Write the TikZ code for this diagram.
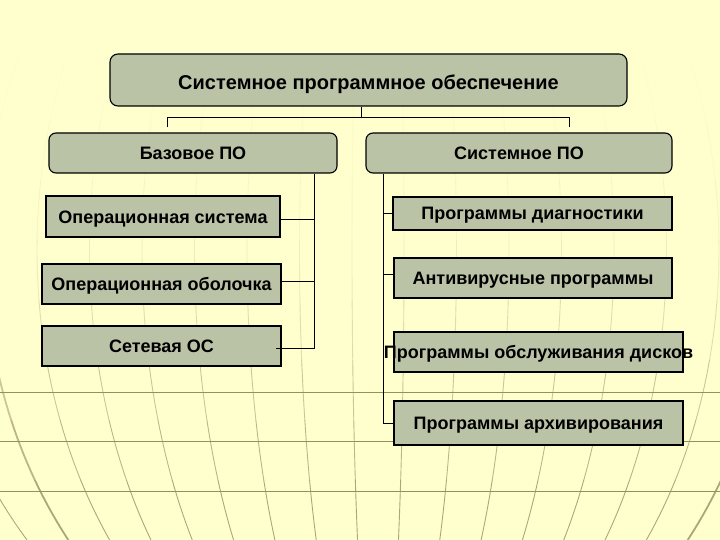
\documentclass[tikz,border=0pt]{standalone}
\usepackage{fontspec}
\setmainfont{Liberation Sans}
\usepackage{tikz}
\usetikzlibrary{calc}

\definecolor{bgyellow}{RGB}{255,255,206}
\definecolor{boxgreen}{RGB}{187,195,167}
\definecolor{globeline}{RGB}{150,142,92}

\begin{document}
\begin{tikzpicture}[x=1pt, y=-1pt,
  box/.style={draw, fill=boxgreen, line width=1.1pt, inner sep=0pt,
    text height=13pt, text depth=0pt, font=\fontsize{18}{20}\selectfont\bfseries},
  head/.style={box, rounded corners=7pt},
  link/.style={line width=0.9pt}]
  \useasboundingbox (0,0) rectangle (720,540);
  \fill[bgyellow] (0,0) rectangle (720,540);
  % globe in the background
  \begin{scope}
    \clip (0,0) rectangle (720,540);
    \foreach \k in {0,...,8}{
      \pgfmathsetmacro\a{26+52.5*\k}
      \foreach \i/\pct in {0/0,1/2,2/5,3/10,4/18,5/30,6/50,7/65,8/78}{
        \pgfmathsetmacro\lw{(\k==7 && \i>5) ? 1.8 : 0.9}
        \pgfmathtruncatemacro\ya{60*\i}
        \pgfmathtruncatemacro\yb{60*\i+60}
        \foreach \s in {-1,1}
          \draw[globeline!\pct!bgyellow, line width=\lw pt]
            plot[domain=\ya:\yb, samples=8] ({378+\s*\a*sqrt(1-((\x-250)/470)^2)}, \x);
      }
    }
    \foreach \y in {392,441,491}
      \draw[globeline, line width=0.8pt] (0,\y) -- (720,\y);
  \end{scope}

  \node[head, rounded corners=8pt, minimum width=517pt, minimum height=52pt, text height=20pt,
    font=\fontsize{20}{22}\selectfont\bfseries] (root) at (368.5,80) {Системное программное обеспечение};
  \node[head, minimum width=288pt, minimum height=40pt] (base) at (193,153) {Базовое ПО};
  \node[head, minimum width=306pt, minimum height=40pt] (sys) at (519,153) {Системное ПО};

  \node[box, minimum width=234pt, minimum height=41pt] (os) at (163,216.5) {Операционная система};
  \node[box, minimum width=239pt, minimum height=40pt] (shell) at (161.5,284) {Операционная оболочка};
  \node[box, minimum width=239pt, minimum height=40pt] (net) at (161.5,346) {Сетевая ОС};

  \node[box, minimum width=279pt, minimum height=33pt] (diag) at (532.5,213.5) {Программы диагностики};
  \node[box, minimum width=278pt, minimum height=40pt] (anti) at (533,278) {Антивирусные программы};
  \node[box, minimum width=289pt, minimum height=40pt] (disk) at (538.5,352) {\makebox[0pt]{Программы обслуживания дисков}};
  \node[box, minimum width=289pt, minimum height=44pt] (arch) at (538.5,423) {Программы архивирования};

  \coordinate (fork) at (361,117);
  \coordinate (ldrop) at (167,117);
  \coordinate (rdrop) at (569,117);
  \coordinate (ltr) at (314,0);
  \coordinate (rtr) at (383,0);

  \draw[link] (root.south -| fork) -- (fork);
  \draw[link] ([yshift=5pt]base.north -| ldrop) -- (ldrop) -- (rdrop) -- ([yshift=5pt]sys.north -| rdrop);

  \draw[link] (base.south -| ltr) -- ([yshift=-2pt]net.east -| ltr) -- ([xshift=-6pt, yshift=-2pt]net.east);
  \draw[link] ([yshift=-2.5pt]os.east) -- ([yshift=-2.5pt]os.east -| ltr);
  \draw[link] ([yshift=3pt]shell.east) -- ([yshift=3pt]shell.east -| ltr);

  \draw[link] (sys.south -| rtr) |- (arch.west);
  \draw[link] (diag.west) -- (diag.west -| rtr);
  \draw[link] ([yshift=4pt]anti.west) -- ([yshift=4pt]anti.west -| rtr);
\end{tikzpicture}
\end{document}
